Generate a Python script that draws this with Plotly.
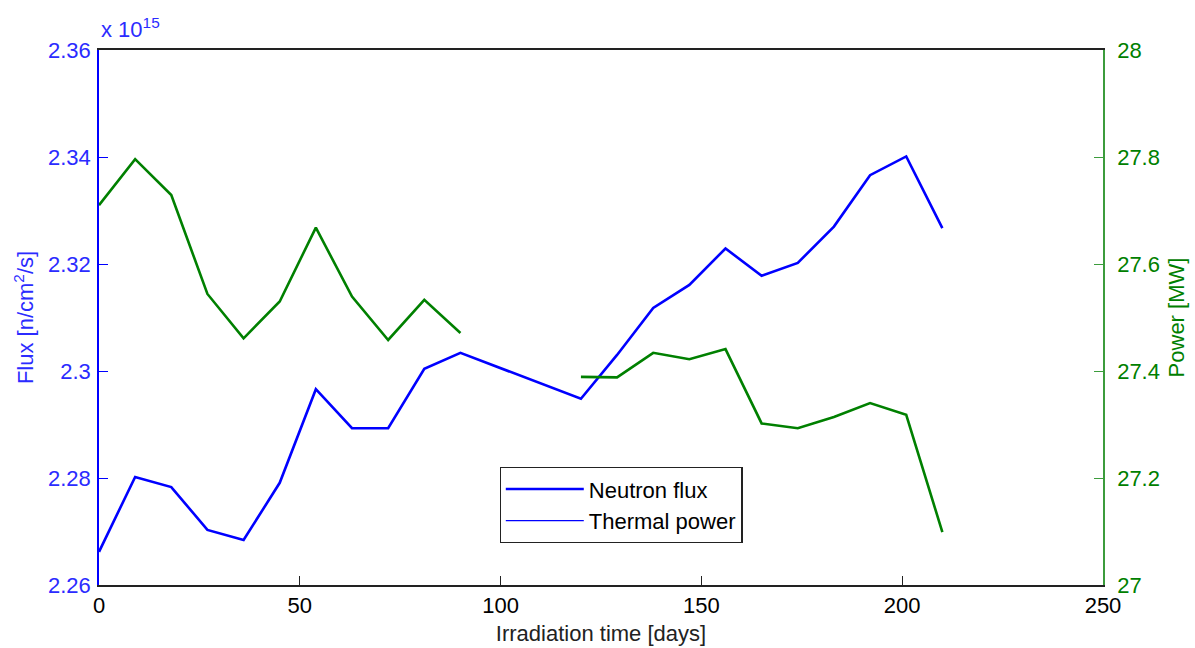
import plotly.graph_objects as go

# Irradiation time [days]
days = [0, 9, 18, 27, 36, 45, 54, 63, 72, 81, 90,
        120, 129, 138, 147, 156, 165, 174, 183, 192, 201, 210]
# Neutron flux, in units of 1e15 n/cm^2/s
flux_e15 = [2.2662, 2.2802, 2.2783, 2.2703, 2.2684, 2.2791, 2.2966, 2.2893, 2.2893, 2.3004, 2.3034,
            2.2948, 2.3030, 2.3118, 2.3161, 2.3229, 2.3178, 2.3202, 2.3270, 2.3366, 2.3401, 2.3267]
# Thermal power [MW]
power_mw = [27.710, 27.796, 27.729, 27.544, 27.461, 27.530, 27.668, 27.539, 27.458, 27.533, 27.471,
            27.389, 27.388, 27.434, 27.422, 27.441, 27.302, 27.293, 27.314, 27.340, 27.318, 27.099]
gap_index = 11  # power record has a gap between day 90 and day 120

x_ticks = [0, 50, 100, 150, 200, 250]
flux_ticks = [2.26, 2.28, 2.30, 2.32, 2.34, 2.36]
power_ticks = [27, 27.2, 27.4, 27.6, 27.8, 28]

BLUE = "#0000ff"
BLUE_TXT = "#2b2bff"
GREEN = "#008000"
GREEN_AX = "#3c9c3c"
FONT = "Liberation Sans, Arial, sans-serif"
FS = 22

fig = go.Figure()
fig.add_trace(go.Scatter(x=days, y=flux_e15, mode="lines", name="Neutron flux",
                         line=dict(color=BLUE, width=2.6), yaxis="y"))
fig.add_trace(go.Scatter(x=days[:gap_index], y=power_mw[:gap_index], mode="lines",
                         line=dict(color=GREEN, width=2.6), yaxis="y2", showlegend=False))
fig.add_trace(go.Scatter(x=days[gap_index:], y=power_mw[gap_index:], mode="lines",
                         line=dict(color=GREEN, width=2.6), yaxis="y2", showlegend=False))
# legend entry as in the original (drawn with a thin blue line)
fig.add_trace(go.Scatter(x=[None], y=[None], mode="lines", name="Thermal power",
                         line=dict(color=BLUE, width=1.2), yaxis="y"))

fig.update_layout(
    width=1195, height=648,
    margin=dict(l=99, r=92, t=50, b=63),
    plot_bgcolor="white", paper_bgcolor="white",
    font=dict(family=FONT, size=FS, color="black"),
    xaxis=dict(range=[0, 250], tickvals=x_ticks, ticks="inside", ticklen=9,
               tickcolor="#222", showline=True, linecolor="#222", linewidth=1.5,
               mirror=True, showgrid=False, zeroline=False, automargin=False,
               tickfont=dict(size=FS, color="black"),
               title=dict(text="Irradiation time [days]", font=dict(size=FS, color="#222"),
                          standoff=8)),
    yaxis=dict(range=[2.26, 2.36], tickvals=flux_ticks, ticks="inside", ticklen=9,
               tickcolor=BLUE, showline=True, linecolor=BLUE, linewidth=1.5,
               showgrid=False, zeroline=False, ticklabelstandoff=2, automargin=False,
               tickfont=dict(size=FS, color=BLUE_TXT),
               title=dict(text="Flux [n/cm<sup>2</sup>/s]", font=dict(size=FS, color=BLUE_TXT),
                          standoff=8)),
    yaxis2=dict(range=[27, 28], tickvals=power_ticks, ticks="inside", ticklen=9,
                tickcolor=GREEN_AX, showline=True, linecolor=GREEN_AX, linewidth=1.5,
                overlaying="y", side="right", showgrid=False, zeroline=False,
                ticklabelstandoff=8, automargin=False,
                tickfont=dict(size=FS, color=GREEN),
                title=dict(text="Power [MW]", font=dict(size=FS, color=GREEN), standoff=10)),
    legend=dict(x=0.399, y=0.2206, xanchor="left", yanchor="top",
                bgcolor="white", bordercolor="#222", borderwidth=1.2,
                itemwidth=78,
                font=dict(size=FS, color="black"), tracegroupgap=0),
    annotations=[dict(text="x 10<sup>15</sup>", xref="paper", yref="paper",
                      x=0, y=1, xanchor="left", yanchor="bottom", showarrow=False,
                      yshift=6, font=dict(size=FS, color=BLUE_TXT))],
)

fig.write_html("out.html")
